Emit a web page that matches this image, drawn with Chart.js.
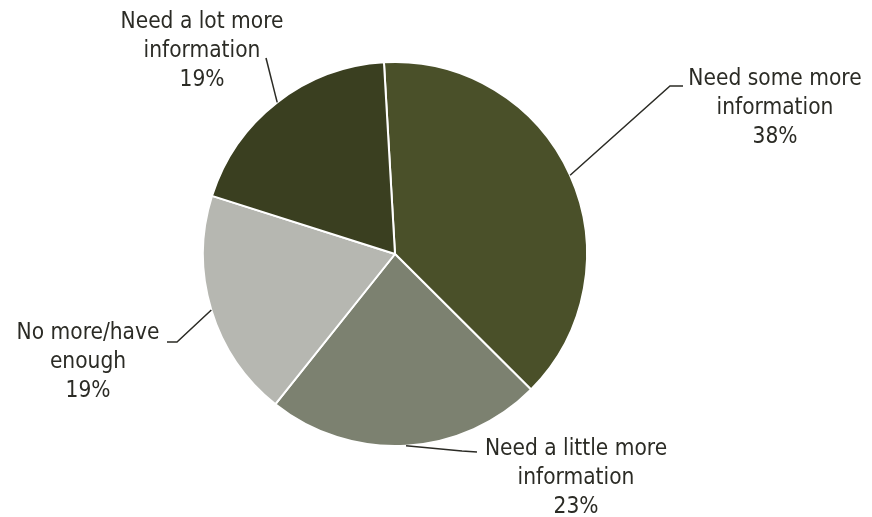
<!DOCTYPE html>
<html>
<head>
<meta charset="utf-8">
<script src="https://cdn.jsdelivr.net/npm/chart.js@4.4.1/dist/chart.umd.min.js"></script>
<style>
  html, body { margin: 0; padding: 0; background: #fff; }
  #wrap { width: 872px; height: 517px; }
</style>
</head>
<body>
<div id="wrap"><canvas id="myChart"></canvas></div>
<script>
const labels = ['Need some more information', 'Need a little more information', 'No more/have enough', 'Need a lot more information'];
const labelLines = [
    ['Need some more', 'information'],
    ['Need a little more', 'information'],
    ['No more/have', 'enough'],
    ['Need a lot more', 'information']
];
const dataValues = [38, 23, 19, 19];
const colors = ['#4a5029', '#7c8170', '#b6b7b1', '#3a3f20'];

// label placement relative to pie centre: text block middle, leader elbow, leader end
const labelPos = [
    { tx: 380, ty: -147, ex: 275, ey: -168, hx: 288, hy: -168 },
    { tx: 181, ty: 223, ex: 67, ey: 197, hx: 82, hy: 198 },
    { tx: -307, ty: 107, ex: -218, ey: 88, hx: -228, hy: 88 },
    { tx: -193, ty: -204, ex: -129, ey: -196, hx: -129, hy: -196 }
];

const leaderLabels = {
    id: 'leaderLabels',
    afterDraw(chart) {
        const ctx = chart.ctx;
        const meta = chart.getDatasetMeta(0);
        const total = dataValues.reduce((a, b) => a + b, 0);
        ctx.save();
        ctx.strokeStyle = '#2b2b25';
        ctx.lineWidth = 1.5;
        ctx.fillStyle = '#2b2b25';
        ctx.font = '22.5px "DejaVu Sans Condensed", "DejaVu Sans", sans-serif';
        ctx.textAlign = 'center';
        ctx.textBaseline = 'middle';
        meta.data.forEach((arc, i) => {
            const p = arc.getProps(['x', 'y', 'startAngle', 'endAngle', 'outerRadius'], true);
            const mid = (p.startAngle + p.endAngle) / 2;
            const sx = p.x + Math.cos(mid) * p.outerRadius;
            const sy = p.y + Math.sin(mid) * p.outerRadius;
            const lp = labelPos[i];
            ctx.beginPath();
            ctx.moveTo(sx, sy);
            ctx.lineTo(p.x + lp.ex, p.y + lp.ey);
            ctx.lineTo(p.x + lp.hx, p.y + lp.hy);
            ctx.stroke();
            const lines = labelLines[i].concat([Math.round(dataValues[i] / total * 100) + '%']);
            const lh = 28.7;
            lines.forEach((t, j) => {
                ctx.fillText(t, p.x + lp.tx, p.y + lp.ty + (j - 1) * lh + 1);
            });
        });
        ctx.restore();
    }
};

new Chart(document.getElementById('myChart'), {
    type: 'pie',
    data: {
        labels: labels,
        datasets: [{
            data: dataValues,
            backgroundColor: colors,
            borderColor: '#ffffff',
            borderWidth: 2
        }]
    },
    options: {
        responsive: true,
        maintainAspectRatio: false,
        animation: false,
        rotation: -3.3,
        layout: {
            padding: { top: 61, bottom: 70, left: 202, right: 284 }
        },
        plugins: {
            legend: { display: false },
            tooltip: { enabled: false }
        }
    },
    plugins: [leaderLabels]
});
</script>
</body>
</html>
